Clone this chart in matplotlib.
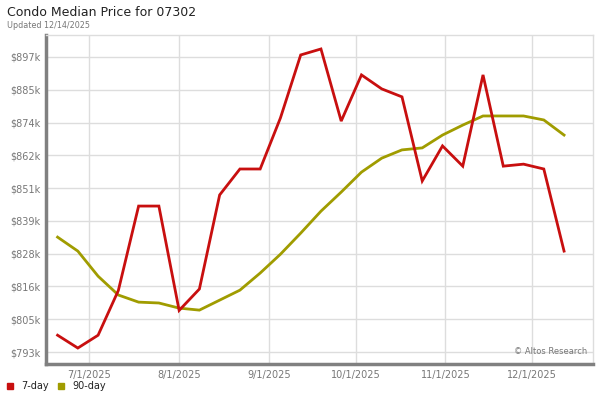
import matplotlib
matplotlib.use("Agg")
import matplotlib.pyplot as plt
import matplotlib.dates as mdates
import numpy as np
import datetime as dt

# weekly sample dates
dates = [dt.date(2025, 6, 20) + dt.timedelta(days=7 * i) for i in range(26)]

# values in $k
seven_day = [799.3, 794.8, 799.3, 815.0, 844.6, 844.6, 808.0, 815.5, 848.5, 857.6,
             857.6, 875.5, 897.6, 899.7, 874.4, 890.6, 885.7, 882.9, 853.4, 865.7,
             858.6, 890.6, 858.6, 859.3, 857.6, 828.8]
ninety_day = [833.7, 828.8, 820.0, 813.4, 810.9, 810.6, 808.8, 808.1, 811.6, 815.1,
              821.1, 827.7, 835.1, 842.8, 849.5, 856.5, 861.4, 864.3, 865.0, 869.5,
              873.0, 876.2, 876.2, 876.2, 874.8, 869.5]

y_ticks = [793.4, 804.9, 816.4, 827.9, 839.4, 850.9, 862.4, 873.9, 885.4, 896.9]
y_labels = ["$793k", "$805k", "$816k", "$828k", "$839k", "$851k", "$862k",
            "$874k", "$885k", "$897k"]
x_ticks = [dt.date(2025, m, 1) for m in range(7, 13)]
x_labels = ["7/1/2025", "8/1/2025", "9/1/2025", "10/1/2025", "11/1/2025", "12/1/2025"]

RED = "#c80f0f"
OLIVE = "#a09c00"
GRID = "#dddddd"
TEXT = "#777777"

fig = plt.figure(figsize=(6, 4), dpi=100)
ax = fig.add_axes([46 / 600, 36 / 400, 547 / 600, 329 / 400])

ax.plot(dates, ninety_day, color=OLIVE, lw=2.0, solid_joinstyle="miter")
ax.plot(dates, seven_day, color=RED, lw=2.0, solid_joinstyle="miter")

ax.set_ylim(789.2, 904.6)
ax.set_xlim(dt.date(2025, 6, 16), dt.date(2025, 12, 22))

ax.set_yticks(y_ticks)
ax.set_yticklabels(y_labels)
ax.set_xticks(x_ticks)
ax.set_xticklabels(x_labels)
ax.tick_params(axis="both", length=0, labelsize=7, labelcolor=TEXT, pad=4)
ax.grid(True, color=GRID, lw=1)
ax.set_axisbelow(True)

for side in ["top", "right"]:
    ax.spines[side].set_color(GRID)
    ax.spines[side].set_linewidth(1)
for side in ["left", "bottom"]:
    ax.spines[side].set_color("#808080")
    ax.spines[side].set_linewidth(2.5)

ax.text(0.99, 0.025, "© Altos Research", transform=ax.transAxes,
        ha="right", va="bottom", fontsize=6, color=TEXT)

fig.text(7 / 600, 1 - 13 / 400, "Condo Median Price for 07302", fontsize=9,
         color="#222222", va="center", ha="left")
fig.text(7 / 600, 1 - 26 / 400, "Updated 12/14/2025", fontsize=5.8,
         color=TEXT, va="center", ha="left")

# legend
fig.patches.append(plt.Rectangle((7 / 600, 1 - 389 / 400), 6 / 600, 6 / 400,
                                 color=RED, transform=fig.transFigure))
fig.text(21 / 600, 1 - 386 / 400, "7-day", fontsize=7, color="#222222", va="center")
fig.patches.append(plt.Rectangle((58 / 600, 1 - 389 / 400), 6 / 600, 6 / 400,
                                 color=OLIVE, transform=fig.transFigure))
fig.text(72 / 600, 1 - 386 / 400, "90-day", fontsize=7, color="#222222", va="center")

fig.savefig("out.png", dpi=100)
